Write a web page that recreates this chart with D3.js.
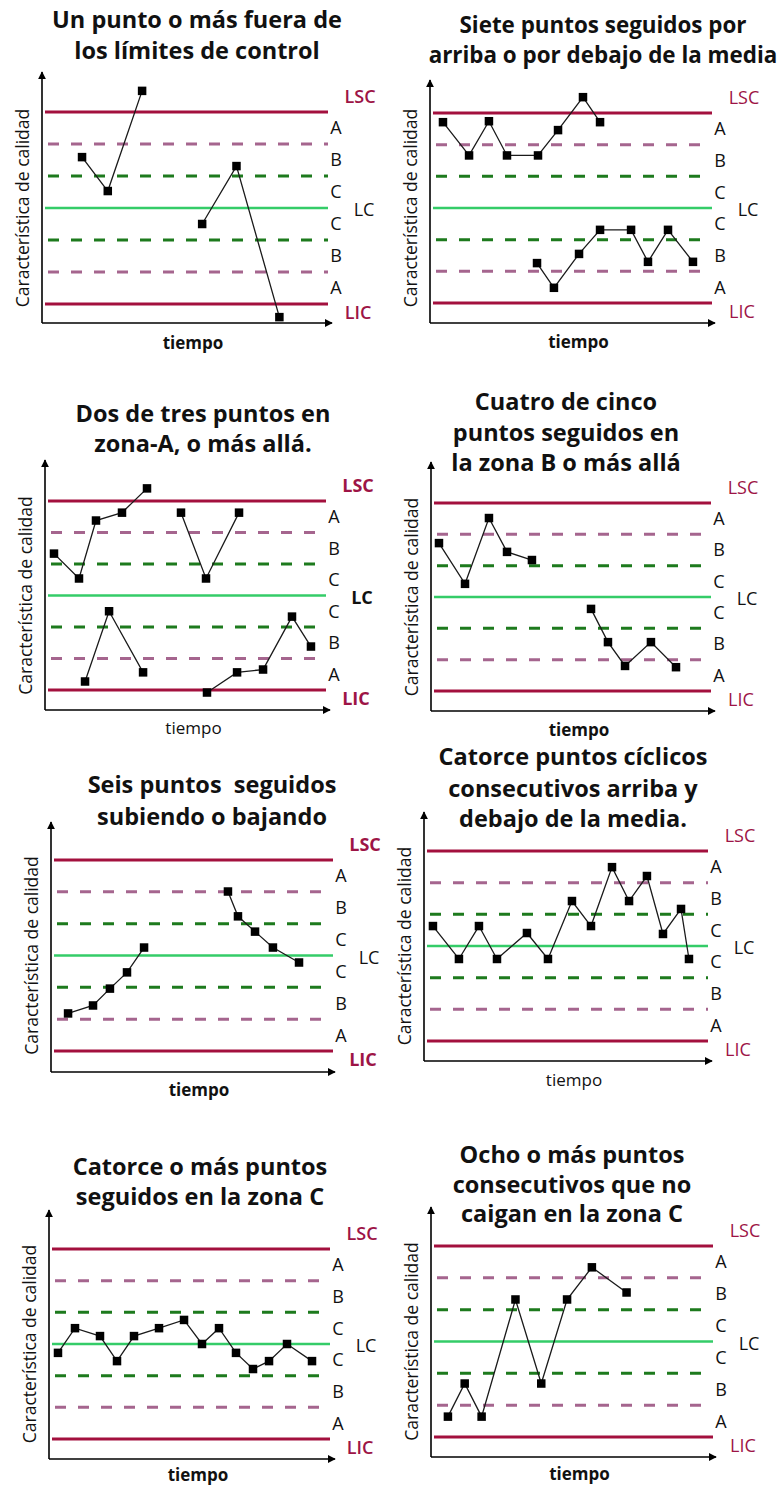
<!DOCTYPE html>
<html lang="es">
<head>
<meta charset="utf-8">
<script src="https://cdn.jsdelivr.net/npm/d3@7"></script>
<style>
  html, body { margin: 0; padding: 0; background: #fff; }
  svg { display: block; }
  text { white-space: pre; }
</style>
</head>
<body>
<script>
// ---- Data -------------------------------------------------------------
// Titles of the eight Western Electric style rules
const titles = [
  ["Un punto o más fuera de", "los límites de control"],
  ["Siete puntos seguidos por", "arriba o por debajo de la media"],
  ["Dos de tres puntos en", "zona-A, o más allá."],
  ["Cuatro de cinco", "puntos seguidos en", "la zona B o más allá"],
  ["Seis puntos  seguidos", "subiendo o bajando"],
  ["Catorce puntos cíclicos", "consecutivos arriba y", "debajo de la media."],
  ["Catorce o más puntos", "seguidos en la zona C"],
  ["Ocho o más puntos", "consecutivos que no", "caigan en la zona C"]
];

const zoneLabels = ["A", "B", "C", "C", "B", "A"];
const limitLabels = ["LSC", "LC", "LIC"];
const yAxisLabel = "Característica de calidad";
const xAxisLabel = "tiempo";

// Time positions (0–20) and values in sigma units (LC = 0, LSC = +3, LIC = -3).
// Each inner array is one connected run of points.
const tiempo1 = [[2.8, 4.6, 7.0], [11.2, 13.6, 16.6]];
const valor1  = [[1.59, 0.53, 3.66], [-0.5, 1.31, -3.41]];

const tiempo2 = [[0.92, 2.77, 4.18, 5.46, 7.66, 9.08, 10.85, 12.06],
                 [7.59, 8.79, 10.57, 12.06, 14.26, 15.46, 16.88, 18.65]];
const valor2  = [[2.71, 1.66, 2.74, 1.66, 1.66, 2.46, 3.5, 2.71],
                 [-1.74, -2.52, -1.45, -0.69, -0.69, -1.70, -0.69, -1.70]];

const tiempo3 = [[0.64, 2.42, 3.63, 5.48, 7.26], [9.68, 11.46, 13.81],
                 [2.85, 4.56, 6.98], [11.53, 13.67, 15.52, 17.58, 18.93]];
const valor3  = [[1.33, 0.54, 2.38, 2.63, 3.4], [2.63, 0.54, 2.63],
                 [-2.73, -0.5, -2.44], [-3.08, -2.44, -2.35, -0.67, -1.62]];

const tiempo4 = [[0.57, 2.43, 4.14, 5.43, 7.21], [11.43, 12.64, 13.86, 15.71, 17.5]];
const valor4  = [[1.72, 0.42, 2.52, 1.44, 1.18], [-0.38, -1.44, -2.2, -1.44, -2.24]];

const tiempo5 = [[1.21, 2.98, 4.18, 5.39, 6.6], [12.55, 13.26, 14.47, 15.74, 17.59]];
const valor5  = [[-1.82, -1.57, -1.04, -0.53, 0.25], [2.01, 1.23, 0.75, 0.25, -0.22]];

const tiempo6 = [[0.63, 2.46, 3.87, 5.14, 7.25, 8.73, 10.42, 11.76, 13.24, 14.44, 15.7, 16.83, 18.1, 18.66]];
const valor6  = [[0.63, -0.41, 0.63, -0.41, 0.41, -0.41, 1.42, 0.63, 2.49, 1.42, 2.21, 0.38, 1.17, -0.41]];

const tiempo7 = [[0.64, 1.85, 3.63, 4.84, 6.05, 7.83, 9.61, 10.89, 12.1, 13.31, 14.52, 15.66, 16.94, 18.72]];
const valor7  = [[-0.28, 0.5, 0.25, -0.54, 0.25, 0.5, 0.76, 0, 0.5, -0.28, -0.79, -0.54, 0, -0.54]];

const tiempo8 = [[1.2, 2.39, 3.59, 5.99, 7.82, 9.65, 11.41, 13.87]];
const valor8  = [[-2.36, -1.32, -2.36, 1.32, -1.32, 1.32, 2.33, 1.54]];

const tiempos = [tiempo1, tiempo2, tiempo3, tiempo4, tiempo5, tiempo6, tiempo7, tiempo8];
const valores = [valor1, valor2, valor3, valor4, valor5, valor6, valor7, valor8];

// ---- Layout of each small chart (page pixels) ------------------------
const layout = [
  { axisX: 42,  axisTop: 72,   axisBottom: 323,  axisRight: 332, lineR: 328, lsc: 112,  lic: 304,  titleX: 197, titleY: [28, 59],           titleSize: 23.5, tiempoW: 700, tiempoDy: 20, limW: 600, lcW: 400 },
  { axisX: 430, axisTop: 80,   axisBottom: 323,  axisRight: 715, lineR: 712, lsc: 113,  lic: 303,  titleX: 603, titleY: [33, 63],           titleSize: 22.4, tiempoW: 700, tiempoDy: 19, limW: 400, lcW: 400 },
  { axisX: 45,  axisTop: 460,  axisBottom: 710,  axisRight: 330, lineR: 326, lsc: 501,  lic: 690,  titleX: 203, titleY: [422, 452],         titleSize: 23.5, tiempoW: 400, tiempoDy: 18, limW: 700, lcW: 700 },
  { axisX: 431, axisTop: 462,  axisBottom: 711,  axisRight: 715, lineR: 711, lsc: 503,  lic: 691,  titleX: 566, titleY: [410, 441, 471],    titleSize: 23.5, tiempoW: 700, tiempoDy: 19, limW: 400, lcW: 400 },
  { axisX: 51,  axisTop: 822,  axisBottom: 1072, axisRight: 335, lineR: 333, lsc: 860,  lic: 1051, titleX: 212, titleY: [793, 825],         titleSize: 23.5, tiempoW: 700, tiempoDy: 18, limW: 700, lcW: 400 },
  { axisX: 424, axisTop: 812,  axisBottom: 1061, axisRight: 712, lineR: 708, lsc: 851,  lic: 1041, titleX: 573, titleY: [765, 797, 827],    titleSize: 23.5, tiempoW: 400, tiempoDy: 19, limW: 400, lcW: 400 },
  { axisX: 49,  axisTop: 1210, axisBottom: 1459, axisRight: 335, lineR: 330, lsc: 1249, lic: 1439, titleX: 200, titleY: [1175, 1205],       titleSize: 23.5, tiempoW: 700, tiempoDy: 16, limW: 600, lcW: 400 },
  { axisX: 431, axisTop: 1207, axisBottom: 1457, axisRight: 716, lineR: 713, lsc: 1246, lic: 1437, titleX: 572, titleY: [1163, 1193, 1222], titleSize: 23.5, tiempoW: 700, tiempoDy: 17, limW: 400, lcW: 400 }
];

const colors = {
  limit: "#a3103e",
  limitText: "#9d1446",
  zoneB: "#a5658e",
  zoneC: "#1d7a1d",
  center: "#34cc68",
  ink: "#000"
};
const FONT = "'Open Sans', 'DejaVu Sans', sans-serif";
const LABEL_SIZE = 18;

// ---- Drawing ----------------------------------------------------------
const W = 780, H = 1486;
const svg = d3.select("body").append("svg")
  .attr("width", W).attr("height", H)
  .attr("viewBox", `0 0 ${W} ${H}`)
  .style("font-family", FONT);

const defs = svg.append("defs");
defs.append("marker")
  .attr("id", "arrow")
  .attr("viewBox", "0 0 10 10")
  .attr("refX", 9).attr("refY", 5)
  .attr("markerWidth", 5).attr("markerHeight", 5)
  .attr("markerUnits", "strokeWidth")
  .attr("orient", "auto")
  .append("path").attr("d", "M0,0 L10,5 L0,10 Z").attr("fill", colors.ink);

layout.forEach((L, i) => {
  const g = svg.append("g").attr("class", "rule-chart");

  const x = d3.scaleLinear().domain([0, 20]).range([L.axisX, L.lineR]);
  const y = d3.scaleLinear().domain([-3, 3]).range([L.lic, L.lsc]);

  // title
  const title = g.append("text")
    .attr("text-anchor", "middle")
    .attr("font-weight", 700)
    .attr("font-size", L.titleSize)
    .attr("fill", "#111");
  titles[i].forEach((line, k) => {
    title.append("tspan").attr("x", L.titleX).attr("y", L.titleY[k]).text(line);
  });

  // control limits and zone boundaries
  const solidX0 = L.axisX + 3, dashX0 = L.axisX + 6;
  const rules = [
    { v: 3,  stroke: colors.limit,  w: 3,   dash: null,    x0: solidX0 },
    { v: 2,  stroke: colors.zoneB,  w: 3,   dash: "11,12", x0: dashX0 },
    { v: 1,  stroke: colors.zoneC,  w: 3,   dash: "11,12", x0: dashX0 },
    { v: 0,  stroke: colors.center, w: 2.6, dash: null,    x0: solidX0 },
    { v: -1, stroke: colors.zoneC,  w: 3,   dash: "11,12", x0: dashX0 },
    { v: -2, stroke: colors.zoneB,  w: 3,   dash: "11,12", x0: dashX0 },
    { v: -3, stroke: colors.limit,  w: 3,   dash: null,    x0: solidX0 }
  ];
  g.selectAll("line.rule").data(rules).join("line")
    .attr("class", "rule")
    .attr("x1", d => d.x0).attr("x2", L.lineR)
    .attr("y1", d => y(d.v)).attr("y2", d => y(d.v))
    .attr("stroke", d => d.stroke)
    .attr("stroke-width", d => d.w)
    .attr("stroke-dasharray", d => d.dash);

  // zone letters, centred in each band
  const bands = d3.range(6).map(k => 2.5 - k);
  g.selectAll("text.zone").data(bands).join("text")
    .attr("class", "zone")
    .attr("x", L.lineR + 8)
    .attr("y", d => y(d))
    .attr("dy", "0.36em")
    .attr("text-anchor", "middle")
    .attr("font-size", LABEL_SIZE)
    .attr("fill", "#111")
    .text((d, k) => zoneLabels[k]);

  // limit labels
  g.append("text")
    .attr("x", L.lineR + 32).attr("y", y(3) - 15).attr("dy", "0.36em")
    .attr("text-anchor", "middle").attr("font-size", LABEL_SIZE)
    .attr("font-weight", L.limW).attr("fill", colors.limitText)
    .text(limitLabels[0]);
  g.append("text")
    .attr("x", L.lineR + 36).attr("y", y(0) + 2).attr("dy", "0.36em")
    .attr("text-anchor", "middle").attr("font-size", LABEL_SIZE)
    .attr("font-weight", L.lcW).attr("fill", "#111")
    .text(limitLabels[1]);
  g.append("text")
    .attr("x", L.lineR + 30).attr("y", y(-3) + 9).attr("dy", "0.36em")
    .attr("text-anchor", "middle").attr("font-size", LABEL_SIZE)
    .attr("font-weight", L.limW).attr("fill", colors.limitText)
    .text(limitLabels[2]);

  // axes with arrow heads
  g.append("line")
    .attr("x1", L.axisX).attr("y1", L.axisBottom)
    .attr("x2", L.axisX).attr("y2", L.axisTop)
    .attr("stroke", colors.ink).attr("stroke-width", 1.6)
    .attr("marker-end", "url(#arrow)");
  g.append("line")
    .attr("x1", L.axisX).attr("y1", L.axisBottom)
    .attr("x2", L.axisRight).attr("y2", L.axisBottom)
    .attr("stroke", colors.ink).attr("stroke-width", 1.6)
    .attr("marker-end", "url(#arrow)");

  // axis titles
  g.append("text")
    .attr("transform", `translate(${L.axisX - 19},${y(0)}) rotate(-90)`)
    .attr("dy", "0.36em")
    .attr("text-anchor", "middle")
    .attr("font-size", 17.5)
    .attr("fill", "#111")
    .text(yAxisLabel);
  g.append("text")
    .attr("x", (L.axisX + L.axisRight) / 2 + 6)
    .attr("y", L.axisBottom + L.tiempoDy)
    .attr("dy", "0.36em")
    .attr("text-anchor", "middle")
    .attr("font-size", 17)
    .attr("font-weight", L.tiempoW)
    .attr("fill", "#111")
    .text(xAxisLabel);

  // observations
  const runs = tiempos[i].map((ts, r) => ts.map((t, k) => ({ t, v: valores[i][r][k] })));
  const line = d3.line().x(d => x(d.t)).y(d => y(d.v));
  g.selectAll("path.run").data(runs).join("path")
    .attr("class", "run")
    .attr("d", line)
    .attr("fill", "none")
    .attr("stroke", "#1a1a1a")
    .attr("stroke-width", 1.3);
  const s = 8.5;
  g.selectAll("rect.pt").data(runs.flat()).join("rect")
    .attr("class", "pt")
    .attr("x", d => x(d.t) - s / 2)
    .attr("y", d => y(d.v) - s / 2)
    .attr("width", s).attr("height", s)
    .attr("fill", colors.ink);
});
</script>
</body>
</html>
